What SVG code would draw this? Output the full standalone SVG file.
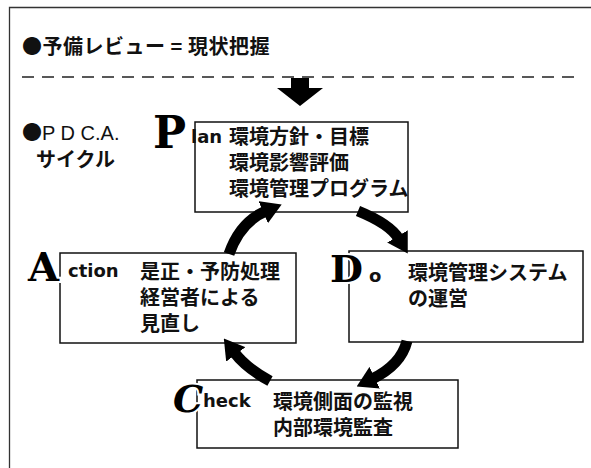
<svg xmlns="http://www.w3.org/2000/svg" width="591" height="468" viewBox="0 0 591 468">
<style>
.jp{font-family:"Noto Sans CJK JP","Noto Sans",sans-serif;font-size:20px;font-weight:bold;fill:#111}
.lat{font-family:"Liberation Sans",sans-serif;font-size:20px;fill:#111}
.box{fill:#fff;stroke:#111;stroke-width:1.5}
.big{font-family:"DejaVu Serif",serif;font-weight:bold;fill:#000;stroke:#fff;stroke-width:4;paint-order:stroke}
.small{font-family:"DejaVu Sans",sans-serif;font-weight:bold;font-size:18px;fill:#111}
.arr{fill:none;stroke:#000;stroke-width:11}
</style>
<defs>
<marker id="ah" markerUnits="userSpaceOnUse" viewBox="0 0 20 24" refX="3" refY="12" markerWidth="20" markerHeight="24" orient="auto">
<path d="M0,0 L20,12 L0,24 z" fill="#000"/>
</marker>
</defs>
<rect width="591" height="468" fill="#fff"/>
<path d="M9.5 468 L9.5 7.5 L591 7.5" fill="none" stroke="#333" stroke-width="1.3"/>
<text class="jp" x="22" y="54" font-size="22" letter-spacing="0.5">●予備レビュー = 現状把握</text>
<line x1="22" y1="77" x2="574" y2="77" stroke="#222" stroke-width="1.3" stroke-dasharray="12 8"/>
<path d="M291 78 L309 78 L309 88 L323 88 L300 106 L277 88 L291 88 z" fill="#000"/>
<text class="lat" x="22" y="140"><tspan font-family="Noto Sans CJK JP">●</tspan>P D C.A.</text>
<text class="jp" x="36" y="167">サイクル</text>

<g id="plan">
<rect class="box" x="195" y="122" width="213" height="90"/>
<text class="big" x="153" y="148" font-size="44">P</text>
<text class="small" x="191" y="143">lan</text>
<text class="jp" x="229" y="144">環境方針・目標</text>
<text class="jp" x="229" y="170">環境影響評価</text>
<text class="jp" x="229" y="196">環境管理プログラム</text>
</g>
<g id="action">
<rect class="box" x="60" y="253" width="236" height="90"/>
<text class="big" x="28" y="281" font-size="40">A</text>
<text class="small" x="68" y="277">ction</text>
<text class="jp" x="140" y="279">是正・予防処理</text>
<text class="jp" x="140" y="305">経営者による</text>
<text class="jp" x="140" y="331">見直し</text>
</g>
<g id="do">
<rect class="box" x="349" y="251" width="234" height="91"/>
<text class="big" x="330" y="282" font-size="38">D</text>
<text class="small" x="369" y="282">o</text>
<text class="jp" x="408" y="280">環境管理システム</text>
<text class="jp" x="408" y="306">の運営</text>
</g>
<g id="check">
<rect class="box" x="197" y="380" width="261" height="68"/>
<text class="big" x="173" y="412" font-size="38" font-style="italic">C</text>
<text class="small" x="203" y="407">heck</text>
<text class="jp" x="273" y="409">環境側面の監視</text>
<text class="jp" x="273" y="435">内部環境監査</text>
</g>
<g id="connectors">
<path class="arr" d="M229 254 Q240 222 266 211" marker-end="url(#ah)"/>
<path class="arr" d="M358 211 Q390 224 399 239" marker-end="url(#ah)"/>
<path class="arr" d="M407 341 Q401 365 372 379" marker-end="url(#ah)"/>
<path class="arr" d="M270 381 Q246 368 234 352" marker-end="url(#ah)"/>
</g>
</svg>
